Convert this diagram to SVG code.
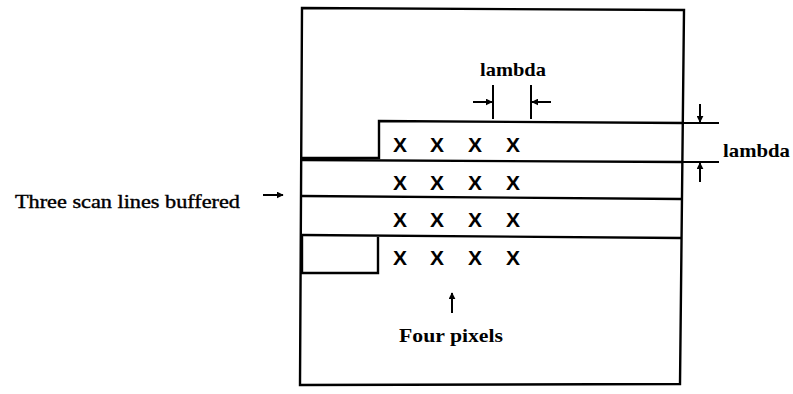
<svg xmlns="http://www.w3.org/2000/svg" width="793" height="394" viewBox="0 0 793 394">
<style>
.ln{stroke:#000;stroke-width:2.4;fill:none}
.thin{stroke:#000;stroke-width:2;fill:none}
.x{font-family:"Liberation Sans",Arial,sans-serif;font-weight:bold;font-size:21px;text-anchor:middle;fill:#000}
.lbl{font-family:"Liberation Serif",serif;font-weight:bold;font-size:19px;fill:#000}
.lbl2{font-family:"Liberation Serif",serif;font-size:19px;fill:#000;stroke:#000;stroke-width:0.4}
</style>
<defs>
<marker id="ah" viewBox="0 0 10 10" refX="9" refY="5" markerWidth="3.5" markerHeight="3.5" orient="auto-start-reverse">
<path d="M0,0 L10,5 L0,10 z" fill="#000"/>
</marker>
</defs>
<g id="frame">
<path class="ln" d="M302,8 L684,10 L680,384 L300,385 Z"/>
</g>
<g id="scanlines">
<path class="ln" d="M302,158 L379,158 L379,121 L684,123"/>
<path class="ln" d="M302,160 L682,162"/>
<path class="ln" d="M302,196 L681,199"/>
<path class="ln" d="M302,235 L681,238"/>
<path class="ln" d="M302,235 L302,273 L378,273 L378,237"/>
</g>
<g id="pixels">
<text class="x" x="400" y="152">X</text><text class="x" x="437" y="152">X</text><text class="x" x="475" y="152">X</text><text class="x" x="513" y="152">X</text>
<text class="x" x="400" y="190">X</text><text class="x" x="437" y="190">X</text><text class="x" x="475" y="190">X</text><text class="x" x="513" y="190">X</text>
<text class="x" x="400" y="227">X</text><text class="x" x="437" y="227">X</text><text class="x" x="475" y="227">X</text><text class="x" x="513" y="227">X</text>
<text class="x" x="400" y="265">X</text><text class="x" x="437" y="265">X</text><text class="x" x="475" y="265">X</text><text class="x" x="513" y="265">X</text>
</g>
<g id="connectors">
<line class="thin" x1="493" y1="85" x2="493" y2="119"/>
<line class="thin" x1="531" y1="85" x2="531" y2="119"/>
<line class="thin" x1="473" y1="102" x2="492" y2="102" marker-end="url(#ah)"/>
<line class="thin" x1="551" y1="102" x2="532" y2="102" marker-end="url(#ah)"/>
<line class="thin" x1="684" y1="123" x2="719" y2="123"/>
<line class="thin" x1="682" y1="162" x2="719" y2="162"/>
<line class="thin" x1="700" y1="104" x2="700" y2="122" marker-end="url(#ah)"/>
<line class="thin" x1="700" y1="182" x2="700" y2="163" marker-end="url(#ah)"/>
<line class="thin" x1="263" y1="195" x2="283" y2="195" marker-end="url(#ah)"/>
<line class="thin" x1="452" y1="313" x2="452" y2="293" marker-end="url(#ah)"/>
</g>
<g id="labels">
<text class="lbl" x="480" y="76" textLength="66" lengthAdjust="spacingAndGlyphs">lambda</text>
<text class="lbl" x="723" y="157" textLength="67" lengthAdjust="spacingAndGlyphs">lambda</text>
<text class="lbl2" x="15" y="208" textLength="225" lengthAdjust="spacingAndGlyphs">Three scan lines buffered</text>
<text class="lbl" x="399" y="342" textLength="104" lengthAdjust="spacingAndGlyphs">Four pixels</text>
</g>
</svg>
